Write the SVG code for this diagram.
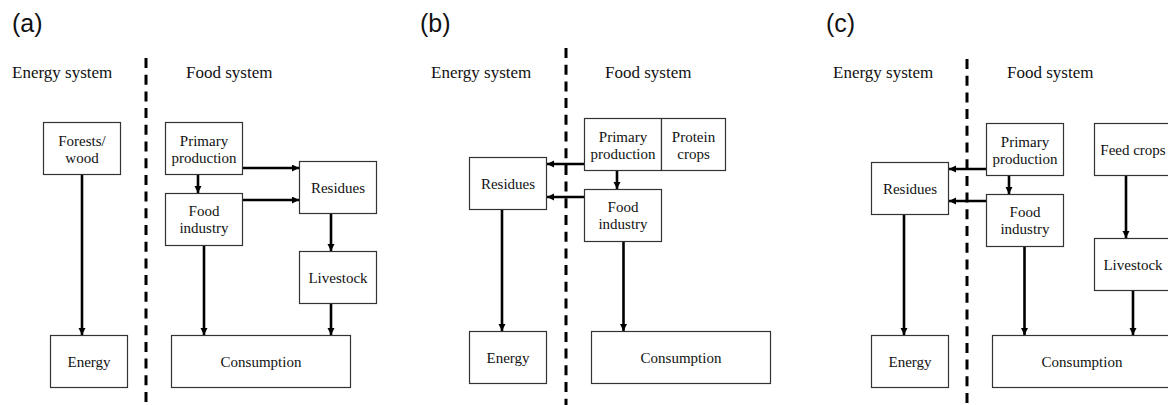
<svg xmlns="http://www.w3.org/2000/svg" width="1168" height="405" viewBox="0 0 1168 405">
<style>
.box{fill:#fff;stroke:#333;stroke-width:1.2}
.t{font-family:"Liberation Serif","Times New Roman",serif;font-size:15px;fill:#111;text-anchor:middle}
.h{font-family:"Liberation Serif","Times New Roman",serif;font-size:17px;fill:#111}
.p{font-family:"Liberation Sans",Arial,sans-serif;font-size:25px;fill:#111}
.dash{stroke:#000;stroke-width:3;stroke-dasharray:10 6.7;fill:none}
.c{stroke:#000;stroke-width:2.6;fill:none;marker-end:url(#ah)}
</style>
<defs>
<marker id="ah" markerUnits="userSpaceOnUse" markerWidth="8" markerHeight="8" refX="7" refY="3.5" orient="auto">
<path d="M0,0 L7,3.5 L0,7 z" fill="#000"/>
</marker>
</defs>
<rect width="1168" height="405" fill="#fff"/>

<!-- Panel labels and headers -->
<g id="labels">
<text class="p" x="12" y="32">(a)</text>
<text class="p" x="420" y="32">(b)</text>
<text class="p" x="826" y="32">(c)</text>
<text class="h" x="12" y="78">Energy system</text>
<text class="h" x="186" y="78">Food system</text>
<text class="h" x="431" y="78">Energy system</text>
<text class="h" x="605" y="78">Food system</text>
<text class="h" x="833" y="78">Energy system</text>
<text class="h" x="1007" y="78">Food system</text>
</g>

<g id="dividers">
<line class="dash" x1="146" y1="58" x2="146" y2="405"/>
<line class="dash" x1="566" y1="48" x2="566" y2="405"/>
<line class="dash" x1="967" y1="59" x2="967" y2="405"/>
</g>

<!-- Connectors -->
<g id="connectors">
<!-- (a) -->
<line class="c" x1="82" y1="175" x2="82" y2="335"/>
<line class="c" x1="242.5" y1="168" x2="299" y2="168"/>
<line class="c" x1="198" y1="175" x2="198" y2="193"/>
<line class="c" x1="242.5" y1="200" x2="299" y2="200"/>
<line class="c" x1="331" y1="214" x2="331" y2="251"/>
<line class="c" x1="204" y1="246" x2="204" y2="335"/>
<line class="c" x1="331" y1="304" x2="331" y2="335"/>
<!-- (b) -->
<line class="c" x1="584.5" y1="164" x2="547" y2="164"/>
<line class="c" x1="584.5" y1="197" x2="547" y2="197"/>
<line class="c" x1="617" y1="171" x2="617" y2="189"/>
<line class="c" x1="502" y1="210" x2="502" y2="331"/>
<line class="c" x1="623.5" y1="242" x2="623.5" y2="331"/>
<!-- (c) -->
<line class="c" x1="986.5" y1="169" x2="949" y2="169"/>
<line class="c" x1="986.5" y1="201" x2="949" y2="201"/>
<line class="c" x1="1009" y1="176" x2="1009" y2="194"/>
<line class="c" x1="904" y1="214" x2="904" y2="335"/>
<line class="c" x1="1024.5" y1="246" x2="1024.5" y2="335"/>
<line class="c" x1="1126" y1="176" x2="1126" y2="238"/>
<line class="c" x1="1133" y1="291" x2="1133" y2="335"/>
</g>

<!-- Panel (a) nodes -->
<g id="a-forests"><rect class="box" x="43.5" y="122.5" width="77" height="52"/><text class="t" x="82" y="146">Forests/</text><text class="t" x="82" y="163">wood</text></g>
<g id="a-primary"><rect class="box" x="165.5" y="122.5" width="77" height="52"/><text class="t" x="204" y="146">Primary</text><text class="t" x="204" y="163">production</text></g>
<g id="a-residues"><rect class="box" x="299.5" y="161.5" width="77" height="52"/><text class="t" x="338" y="193">Residues</text></g>
<g id="a-food"><rect class="box" x="165.5" y="193.5" width="77" height="52"/><text class="t" x="204" y="216">Food</text><text class="t" x="204" y="233">industry</text></g>
<g id="a-livestock"><rect class="box" x="299.5" y="251.5" width="77" height="52"/><text class="t" x="338" y="283">Livestock</text></g>
<g id="a-energy"><rect class="box" x="50.5" y="335.5" width="77" height="52"/><text class="t" x="89" y="367">Energy</text></g>
<g id="a-consumption"><rect class="box" x="171.5" y="335.5" width="179" height="52"/><text class="t" x="261" y="367">Consumption</text></g>

<!-- Panel (b) nodes -->
<g id="b-primary"><rect class="box" x="584.5" y="118.5" width="77" height="52"/><text class="t" x="623" y="142">Primary</text><text class="t" x="623" y="159">production</text></g>
<g id="b-protein"><rect class="box" x="661.5" y="118.5" width="64" height="52"/><text class="t" x="693.5" y="142">Protein</text><text class="t" x="693.5" y="159">crops</text></g>
<g id="b-residues"><rect class="box" x="469.5" y="157.5" width="77" height="52"/><text class="t" x="508" y="189">Residues</text></g>
<g id="b-food"><rect class="box" x="584.5" y="189.5" width="77" height="52"/><text class="t" x="623" y="212">Food</text><text class="t" x="623" y="229">industry</text></g>
<g id="b-energy"><rect class="box" x="469.5" y="331.5" width="77" height="52"/><text class="t" x="508" y="363">Energy</text></g>
<g id="b-consumption"><rect class="box" x="591.5" y="331.5" width="179" height="52"/><text class="t" x="681" y="363">Consumption</text></g>

<!-- Panel (c) nodes -->
<g id="c-primary"><rect class="box" x="986.5" y="123.5" width="77" height="52"/><text class="t" x="1025" y="147">Primary</text><text class="t" x="1025" y="164">production</text></g>
<g id="c-feed"><rect class="box" x="1094.5" y="123.5" width="77" height="52"/><text class="t" x="1133" y="155">Feed crops</text></g>
<g id="c-residues"><rect class="box" x="871.5" y="162.5" width="77" height="52"/><text class="t" x="910" y="194">Residues</text></g>
<g id="c-food"><rect class="box" x="986.5" y="194.5" width="77" height="52"/><text class="t" x="1025" y="217">Food</text><text class="t" x="1025" y="234">industry</text></g>
<g id="c-livestock"><rect class="box" x="1094.5" y="238.5" width="77" height="52"/><text class="t" x="1133" y="270">Livestock</text></g>
<g id="c-energy"><rect class="box" x="871.5" y="335.5" width="77" height="52"/><text class="t" x="910" y="367">Energy</text></g>
<g id="c-consumption"><rect class="box" x="992.5" y="335.5" width="179" height="52"/><text class="t" x="1082" y="367">Consumption</text></g>
</svg>
